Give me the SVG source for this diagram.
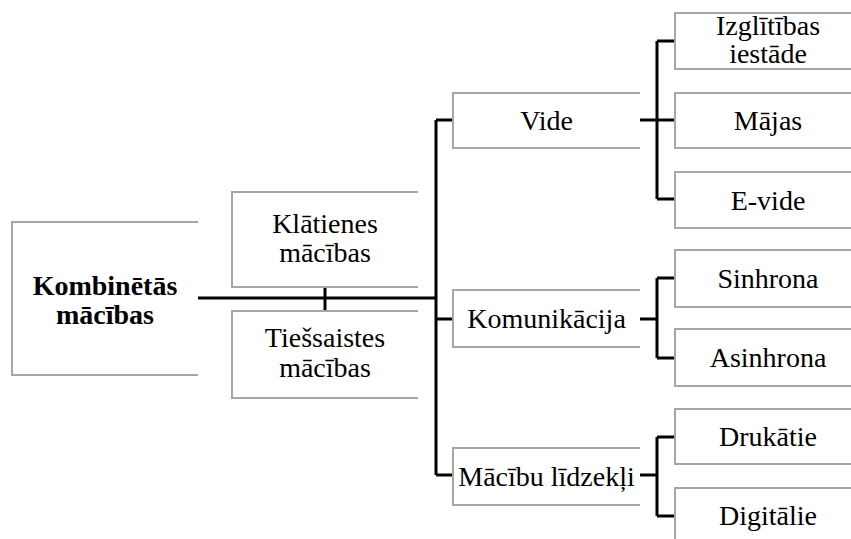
<svg xmlns="http://www.w3.org/2000/svg" width="851" height="539" viewBox="0 0 851 539">
<style>
.box{fill:#fff;stroke:none}
.edge{fill:none;stroke:#a6a6a6;stroke-width:2}
.t{font-family:"Liberation Serif","Times New Roman",serif;font-size:28px;fill:#000;text-anchor:middle}
.b{font-weight:bold}
.c{fill:none;stroke:#000;stroke-width:3}
</style>
<rect width="851" height="539" fill="#fff"/>
<g id="connectors">
<path class="c" d="M198 298H436M325 287V311M436 120V475M436 120H453M436 319H453M436 475H453"/>
<path class="c" d="M640 120H675M657 41V199M657 41H675M657 199H675"/>
<path class="c" d="M640 319H657M657 278V358M657 278H675M657 358H675"/>
<path class="c" d="M640 475H657M657 437V516M657 437H675M657 516H675"/>
</g>
<g id="kombinetas">
<rect class="box" x="12" y="222" width="186" height="153"/>
<path class="edge" d="M198 222H12V375H198"/>
<text class="t b" x="105" y="295">Kombinētās</text>
<text class="t b" x="105" y="324">mācības</text>
</g>
<g id="klatienes">
<rect class="box" x="232" y="192" width="186" height="95"/>
<path class="edge" d="M418 192H232V287H418"/>
<text class="t" x="325" y="233">Klātienes</text>
<text class="t" x="325" y="262">mācības</text>
</g>
<g id="tiessaistes">
<rect class="box" x="232" y="311" width="186" height="87"/>
<path class="edge" d="M418 311H232V398H418"/>
<text class="t" x="325" y="347">Tiešsaistes</text>
<text class="t" x="325" y="377">mācības</text>
</g>
<g id="vide">
<rect class="box" x="453" y="93" width="187" height="55"/>
<path class="edge" d="M640 93H453V148H640"/>
<text class="t" x="546.5" y="130">Vide</text>
</g>
<g id="komunikacija">
<rect class="box" x="453" y="290" width="187" height="57"/>
<path class="edge" d="M640 290H453V347H640"/>
<text class="t" x="546.5" y="328">Komunikācija</text>
</g>
<g id="macibu-lidzekli">
<rect class="box" x="453" y="448" width="187" height="57"/>
<path class="edge" d="M640 448H453V505H640"/>
<text class="t" x="546.5" y="486">Mācību līdzekļi</text>
</g>
<g id="izglitibas">
<rect class="box" x="675" y="13" width="186" height="56"/>
<path class="edge" d="M861 13H675V69H861"/>
<text class="t" x="768" y="35">Izglītības</text>
<text class="t" x="768" y="63">iestāde</text>
</g>
<g id="majas">
<rect class="box" x="675" y="93" width="186" height="55"/>
<path class="edge" d="M861 93H675V148H861"/>
<text class="t" x="768" y="130">Mājas</text>
</g>
<g id="evide">
<rect class="box" x="675" y="172" width="186" height="56"/>
<path class="edge" d="M861 172H675V228H861"/>
<text class="t" x="768" y="210">E-vide</text>
</g>
<g id="sinhrona">
<rect class="box" x="675" y="250" width="186" height="57"/>
<path class="edge" d="M861 250H675V307H861"/>
<text class="t" x="768" y="288">Sinhrona</text>
</g>
<g id="asinhrona">
<rect class="box" x="675" y="329" width="186" height="57"/>
<path class="edge" d="M861 329H675V386H861"/>
<text class="t" x="768" y="367">Asinhrona</text>
</g>
<g id="drukatie">
<rect class="box" x="675" y="409" width="186" height="55"/>
<path class="edge" d="M861 409H675V464H861"/>
<text class="t" x="768" y="446">Drukātie</text>
</g>
<g id="digitalie">
<rect class="box" x="675" y="488" width="186" height="56"/>
<path class="edge" d="M861 488H675V544H861"/>
<text class="t" x="768" y="525">Digitālie</text>
</g>
</svg>
